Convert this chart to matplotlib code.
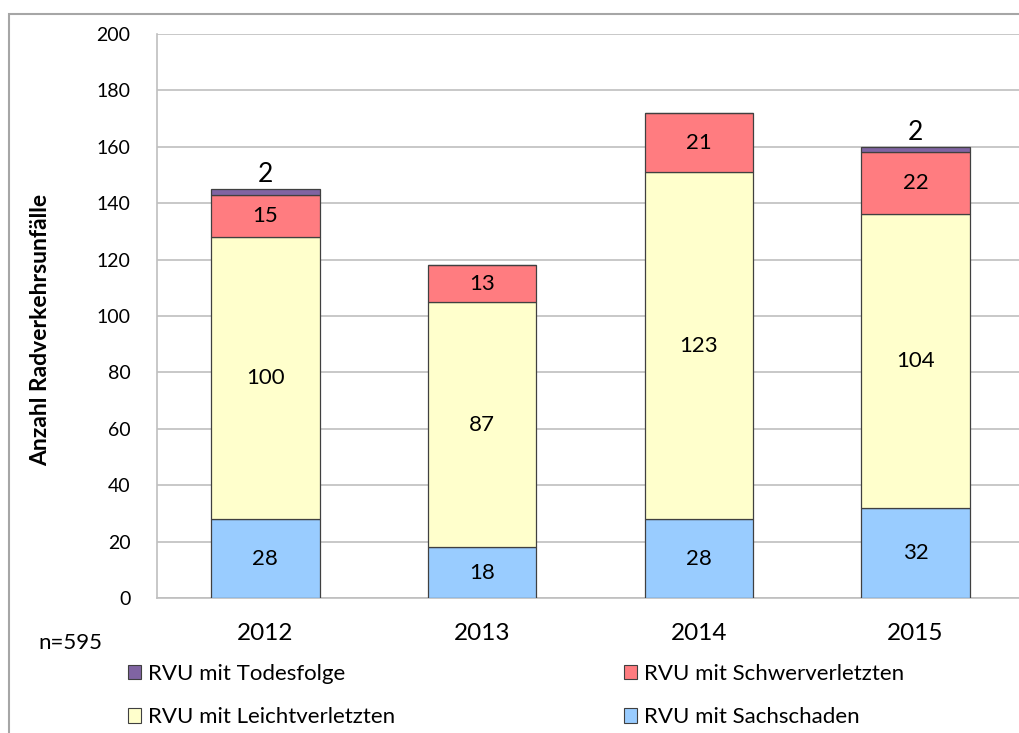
import matplotlib
matplotlib.use("Agg")
import matplotlib.pyplot as plt
from matplotlib.patches import Rectangle, Patch
import numpy as np

plt.rcParams['font.family'] = ['Lato', 'DejaVu Sans']

years = ["2012", "2013", "2014", "2015"]
sachschaden = [28, 18, 28, 32]
leicht = [100, 87, 123, 104]
schwer = [15, 13, 21, 22]
tod = [2, 0, 0, 2]

series_names = ["RVU mit Sachschaden", "RVU mit Leichtverletzten",
                "RVU mit Schwerverletzten", "RVU mit Todesfolge"]
colors = ["#99CCFF", "#FFFFCC", "#FF7C80", "#8064A2"]
yticks = [0, 20, 40, 60, 80, 100, 120, 140, 160, 180, 200]

fig = plt.figure(figsize=(10.19, 7.33), dpi=100)
ax = fig.add_axes([157/1019, 135/733, 867/1019, 564/733])

x = np.arange(len(years))
data = [sachschaden, leicht, schwer, tod]
bottom = np.zeros(len(years))
for vals, c, name in zip(data, colors, series_names):
    v = np.array(vals, dtype=float)
    ax.bar(x, v, 0.5, bottom=bottom, color=c, edgecolor="#404040",
           linewidth=0.9, label=name, zorder=3)
    for xi, vi, bi in zip(x, v, bottom):
        if vi <= 0:
            continue
        if name == "RVU mit Todesfolge":
            ax.text(xi, bi + vi + 0.6, f"{int(vi)}", ha="center", va="bottom",
                    fontsize=19, color="black")
        else:
            ax.text(xi, bi + vi / 2, f"{int(vi)}", ha="center", va="center",
                    fontsize=16, color="black")
    bottom = bottom + v

ax.set_xlim(-0.5, 3.5)
ax.set_ylim(0, 200)
ax.set_yticks(yticks)
ax.set_yticklabels([str(t) for t in yticks], fontsize=14)
ax.set_xticks(x)
ax.set_xticklabels(years, fontsize=17.5)
ax.tick_params(axis="y", length=0, pad=19)
ax.tick_params(axis="x", length=0, pad=18)
ax.grid(axis="y", color="#BFBFBF", linewidth=1.2, zorder=0)
ax.set_axisbelow(True)
for s in ["top", "right"]:
    ax.spines[s].set_visible(False)
ax.spines["left"].set_color("#BFBFBF")
ax.spines["bottom"].set_color("#BFBFBF")
ax.spines["left"].set_linewidth(1.2)
ax.spines["bottom"].set_linewidth(1.2)

fig.text(41/1019, 1 - 330/733, "Anzahl Radverkehrsunfälle", rotation=90,
         ha="center", va="center", fontsize=16.5, fontweight="bold")
fig.text(38/1019, 1 - 643/733, "n=595", ha="left", va="center", fontsize=16)

# figure border
fig.patches.append(Rectangle((9/1019, -0.1), 1.2, 1 - 14/733 + 0.1,
                             transform=fig.transFigure, fill=False,
                             edgecolor="#A6A6A6", linewidth=1.5))

handles = [Patch(facecolor=colors[3], edgecolor="#404040", linewidth=0.8),
           Patch(facecolor=colors[1], edgecolor="#404040", linewidth=0.8),
           Patch(facecolor=colors[2], edgecolor="#404040", linewidth=0.8),
           Patch(facecolor=colors[0], edgecolor="#404040", linewidth=0.8)]
labels = ["RVU mit Todesfolge", "RVU mit Leichtverletzten",
          "RVU mit Schwerverletzten", "RVU mit Sachschaden"]
fig.legend(handles, labels, ncol=2, loc="upper left",
           bbox_to_anchor=(128/1019, 1 - 664/733), frameon=False,
           fontsize=16, handlelength=0.6, handleheight=0.6, handletextpad=0.3,
           columnspacing=10.3, labelspacing=1.05, borderpad=0, borderaxespad=0)

fig.savefig("out.png", dpi=100)
